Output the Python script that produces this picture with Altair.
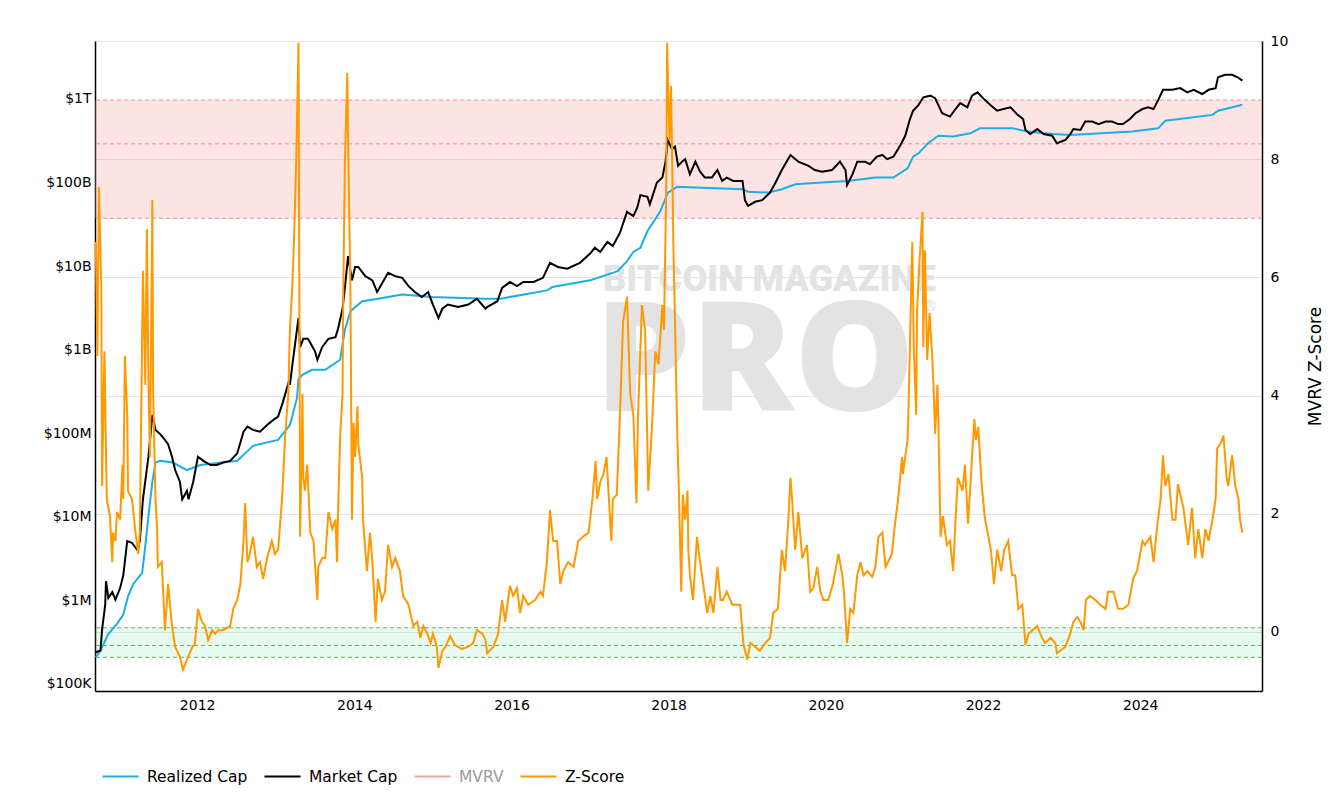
import altair as alt
import pandas as pd

# ---------------- data ----------------
series_names = ["Realized Cap", "Market Cap", "MVRV", "Z-Score"]
series_colors = ["#1aafe6", "#000000", "#f5a3a3", "#ff9900"]

# Realized cap: decimal year and log10(USD)
rc_year = [2010.71, 2010.77, 2010.87, 2010.98, 2011.06, 2011.12, 2011.19, 2011.30, 2011.34, 2011.38,
           2011.43, 2011.47, 2011.53, 2011.69, 2011.87, 2012.04, 2012.51, 2012.71, 2013.03, 2013.18,
           2013.21, 2013.27, 2013.29, 2013.34, 2013.46, 2013.63, 2013.82, 2013.88, 2013.95, 2014.10,
           2014.30, 2014.61, 2014.99, 2015.67, 2015.86, 2016.45, 2016.52, 2017.00, 2017.35, 2017.47,
           2017.55, 2017.64, 2017.73, 2017.89, 2017.99, 2018.11, 2018.34, 2018.94, 2019.01, 2019.27,
           2019.44, 2019.61, 2019.95, 2020.28, 2020.63, 2020.86, 2021.04, 2021.11, 2021.18, 2021.30,
           2021.43, 2021.62, 2021.84, 2021.96, 2022.38, 2022.56, 2022.89, 2023.11, 2023.90, 2024.23,
           2024.32, 2024.92, 2024.99, 2025.12, 2025.30]
rc_log = [5.32, 5.40, 5.60, 5.72, 5.83, 6.05, 6.20, 6.33, 6.65, 7.01,
          7.42, 7.65, 7.67, 7.65, 7.56, 7.62, 7.67, 7.85, 7.92, 8.10,
          8.20, 8.42, 8.65, 8.70, 8.76, 8.76, 8.88, 9.24, 9.46, 9.58,
          9.61, 9.66, 9.63, 9.61, 9.61, 9.71, 9.75, 9.83, 9.94, 10.06,
          10.17, 10.22, 10.42, 10.65, 10.88, 10.95, 10.94, 10.92, 10.89, 10.88,
          10.92, 10.98, 11.00, 11.02, 11.06, 11.06, 11.17, 11.31, 11.35, 11.47,
          11.56, 11.55, 11.59, 11.65, 11.65, 11.61, 11.58, 11.57, 11.61, 11.65,
          11.74, 11.81, 11.86, 11.89, 11.93]

# Market cap: decimal year and log10(USD)
mc_year = [2010.71, 2010.77, 2010.79, 2010.83, 2010.84, 2010.87, 2010.92, 2010.96, 2011.02, 2011.06,
           2011.11, 2011.17, 2011.24, 2011.27, 2011.31, 2011.38, 2011.43, 2011.47, 2011.53, 2011.59,
           2011.63, 2011.68, 2011.72, 2011.78, 2011.81, 2011.87, 2011.89, 2011.95, 2012.01, 2012.08,
           2012.17, 2012.25, 2012.33, 2012.42, 2012.51, 2012.59, 2012.64, 2012.71, 2012.80, 2012.89,
           2012.97, 2013.03, 2013.09, 2013.17, 2013.18, 2013.22, 2013.27, 2013.29, 2013.31, 2013.35,
           2013.41, 2013.50, 2013.53, 2013.59, 2013.67, 2013.76, 2013.79, 2013.85, 2013.88, 2013.92,
           2013.97, 2014.01, 2014.05, 2014.14, 2014.23, 2014.29, 2014.35, 2014.43, 2014.52, 2014.61,
           2014.69, 2014.77, 2014.86, 2014.94, 2015.00, 2015.07, 2015.12, 2015.19, 2015.32, 2015.45,
           2015.56, 2015.67, 2015.69, 2015.82, 2015.88, 2015.98, 2016.07, 2016.15, 2016.28, 2016.40,
           2016.49, 2016.59, 2016.71, 2016.87, 2017.00, 2017.06, 2017.13, 2017.22, 2017.29, 2017.38,
           2017.47, 2017.55, 2017.60, 2017.64, 2017.73, 2017.76, 2017.85, 2017.92, 2017.96, 2017.99,
           2018.04, 2018.08, 2018.12, 2018.17, 2018.21, 2018.27, 2018.34, 2018.40, 2018.46, 2018.55,
           2018.62, 2018.68, 2018.74, 2018.82, 2018.94, 2018.97, 2019.01, 2019.10, 2019.19, 2019.29,
           2019.36, 2019.44, 2019.55, 2019.65, 2019.78, 2019.86, 2019.95, 2020.08, 2020.18, 2020.25,
           2020.27, 2020.34, 2020.40, 2020.50, 2020.56, 2020.65, 2020.72, 2020.78, 2020.86, 2020.95,
           2021.01, 2021.07, 2021.11, 2021.18, 2021.24, 2021.33, 2021.39, 2021.48, 2021.58, 2021.65,
           2021.71, 2021.80, 2021.86, 2021.93, 2022.00, 2022.09, 2022.18, 2022.26, 2022.35, 2022.44,
           2022.51, 2022.54, 2022.60, 2022.69, 2022.77, 2022.88, 2022.94, 2023.05, 2023.11, 2023.15,
           2023.24, 2023.30, 2023.39, 2023.47, 2023.56, 2023.64, 2023.72, 2023.78, 2023.87, 2023.94,
           2024.03, 2024.10, 2024.17, 2024.23, 2024.29, 2024.41, 2024.51, 2024.60, 2024.68, 2024.79,
           2024.87, 2024.96, 2024.99, 2025.08, 2025.17, 2025.24, 2025.30]
mc_log = [5.38, 5.40, 5.65, 5.95, 6.23, 6.03, 6.10, 6.01, 6.15, 6.30,
          6.71, 6.69, 6.60, 6.71, 7.21, 7.72, 8.22, 8.04, 7.99, 7.92,
          7.87, 7.72, 7.56, 7.42, 7.21, 7.31, 7.21, 7.42, 7.72, 7.67,
          7.62, 7.62, 7.65, 7.67, 7.76, 8.02, 8.08, 8.04, 8.02, 8.10,
          8.16, 8.20, 8.37, 8.63, 8.58, 8.88, 9.24, 9.38, 9.03, 9.13,
          9.13, 8.98, 8.88, 9.03, 9.13, 9.15, 9.24, 9.49, 9.74, 10.12,
          9.83, 9.99, 9.99, 9.88, 9.83, 9.69, 9.79, 9.92, 9.88, 9.86,
          9.76, 9.69, 9.63, 9.69, 9.54, 9.38, 9.49, 9.54, 9.51, 9.54,
          9.61, 9.49, 9.51, 9.58, 9.74, 9.81, 9.76, 9.81, 9.81, 9.86,
          10.04, 9.99, 9.97, 10.04, 10.15, 10.22, 10.17, 10.29, 10.24, 10.40,
          10.65, 10.60, 10.70, 10.85, 10.83, 10.74, 11.00, 11.06, 11.25, 11.51,
          11.40, 11.43, 11.20, 11.25, 11.28, 11.10, 11.25, 11.13, 11.06, 11.06,
          11.15, 11.02, 11.06, 11.02, 11.02, 10.79, 10.72, 10.77, 10.79, 10.88,
          11.00, 11.15, 11.33, 11.25, 11.20, 11.15, 11.13, 11.15, 11.25, 11.15,
          10.97, 11.10, 11.25, 11.25, 11.22, 11.31, 11.33, 11.28, 11.31, 11.45,
          11.56, 11.76, 11.86, 11.93, 12.02, 12.04, 12.01, 11.83, 11.79, 11.88,
          11.95, 11.90, 12.04, 12.08, 12.01, 11.93, 11.86, 11.88, 11.90, 11.81,
          11.76, 11.63, 11.58, 11.64, 11.58, 11.56, 11.47, 11.51, 11.58, 11.64,
          11.63, 11.73, 11.73, 11.70, 11.73, 11.73, 11.70, 11.70, 11.76, 11.83,
          11.88, 11.90, 11.88, 11.99, 12.11, 12.11, 12.13, 12.08, 12.11, 12.06,
          12.11, 12.13, 12.26, 12.29, 12.29, 12.26, 12.22]

# MVRV Z-Score: decimal year and value
z_year = [2010.71, 2010.73, 2010.75, 2010.78, 2010.79, 2010.82, 2010.84, 2010.85, 2010.89, 2010.92,
          2010.93, 2010.96, 2010.98, 2011.02, 2011.05, 2011.06, 2011.08, 2011.11, 2011.12, 2011.17,
          2011.21, 2011.25, 2011.27, 2011.31, 2011.34, 2011.36, 2011.38, 2011.40, 2011.43, 2011.44,
          2011.47, 2011.49, 2011.50, 2011.55, 2011.59, 2011.63, 2011.68, 2011.72, 2011.78, 2011.82,
          2011.87, 2011.94, 2011.97, 2012.01, 2012.06, 2012.10, 2012.14, 2012.19, 2012.23, 2012.27,
          2012.33, 2012.42, 2012.46, 2012.51, 2012.55, 2012.59, 2012.61, 2012.64, 2012.67, 2012.71,
          2012.76, 2012.80, 2012.84, 2012.89, 2012.95, 2012.99, 2013.03, 2013.08, 2013.12, 2013.16,
          2013.18, 2013.21, 2013.23, 2013.26, 2013.29, 2013.30, 2013.31, 2013.34, 2013.35, 2013.37,
          2013.40, 2013.41, 2013.44, 2013.48, 2013.53, 2013.54, 2013.59, 2013.63, 2013.67, 2013.72,
          2013.76, 2013.78, 2013.79, 2013.82, 2013.85, 2013.86, 2013.88, 2013.91, 2013.92, 2013.95,
          2013.97, 2013.99, 2014.01, 2014.04, 2014.05, 2014.10, 2014.11, 2014.16, 2014.20, 2014.23,
          2014.27, 2014.30, 2014.35, 2014.39, 2014.43, 2014.48, 2014.52, 2014.58, 2014.62, 2014.69,
          2014.75, 2014.80, 2014.84, 2014.88, 2014.93, 2014.97, 2015.00, 2015.05, 2015.07, 2015.12,
          2015.16, 2015.22, 2015.28, 2015.37, 2015.45, 2015.51, 2015.56, 2015.63, 2015.67, 2015.69,
          2015.77, 2015.83, 2015.88, 2015.92, 2015.98, 2016.02, 2016.07, 2016.11, 2016.15, 2016.21,
          2016.30, 2016.37, 2016.40, 2016.45, 2016.49, 2016.53, 2016.58, 2016.62, 2016.66, 2016.72,
          2016.79, 2016.85, 2016.91, 2016.98, 2017.03, 2017.07, 2017.09, 2017.13, 2017.17, 2017.21,
          2017.23, 2017.27, 2017.29, 2017.34, 2017.38, 2017.42, 2017.47, 2017.51, 2017.55, 2017.59,
          2017.61, 2017.66, 2017.70, 2017.74, 2017.79, 2017.83, 2017.87, 2017.92, 2017.94, 2017.97,
          2017.98, 2018.01, 2018.03, 2018.06, 2018.08, 2018.11, 2018.13, 2018.16, 2018.18, 2018.21,
          2018.24, 2018.25, 2018.27, 2018.31, 2018.36, 2018.40, 2018.44, 2018.49, 2018.53, 2018.57,
          2018.62, 2018.66, 2018.69, 2018.74, 2018.81, 2018.87, 2018.91, 2018.95, 2019.00, 2019.04,
          2019.10, 2019.16, 2019.23, 2019.29, 2019.33, 2019.39, 2019.44, 2019.48, 2019.52, 2019.55,
          2019.57, 2019.61, 2019.65, 2019.70, 2019.76, 2019.80, 2019.84, 2019.89, 2019.93, 2019.97,
          2020.03, 2020.09, 2020.16, 2020.21, 2020.23, 2020.27, 2020.31, 2020.35, 2020.40, 2020.44,
          2020.48, 2020.53, 2020.59, 2020.63, 2020.67, 2020.72, 2020.76, 2020.79, 2020.84, 2020.88,
          2020.92, 2020.97, 2020.98, 2021.04, 2021.05, 2021.10, 2021.12, 2021.15, 2021.16, 2021.19,
          2021.23, 2021.24, 2021.26, 2021.29, 2021.32, 2021.35, 2021.37, 2021.39, 2021.42, 2021.43,
          2021.46, 2021.49, 2021.54, 2021.58, 2021.62, 2021.65, 2021.68, 2021.74, 2021.77, 2021.81,
          2021.86, 2021.89, 2021.91, 2021.94, 2021.98, 2022.02, 2022.05, 2022.10, 2022.14, 2022.18,
          2022.23, 2022.27, 2022.32, 2022.37, 2022.41, 2022.45, 2022.50, 2022.54, 2022.58, 2022.63,
          2022.69, 2022.75, 2022.79, 2022.86, 2022.92, 2022.94, 2023.01, 2023.05, 2023.11, 2023.15,
          2023.20, 2023.24, 2023.28, 2023.31, 2023.36, 2023.43, 2023.49, 2023.56, 2023.59, 2023.66,
          2023.72, 2023.78, 2023.85, 2023.91, 2023.96, 2024.03, 2024.06, 2024.13, 2024.17, 2024.22,
          2024.26, 2024.29, 2024.32, 2024.36, 2024.41, 2024.45, 2024.48, 2024.55, 2024.61, 2024.66,
          2024.70, 2024.74, 2024.79, 2024.83, 2024.87, 2024.92, 2024.96, 2024.98, 2025.02, 2025.06,
          2025.10, 2025.12, 2025.17, 2025.21, 2025.25, 2025.27, 2025.30]
z_score = [6.60, 4.67, 7.53, 5.82, 2.47, 4.75, 3.03, 2.25, 1.96, 1.18,
           1.68, 1.54, 2.03, 1.90, 2.83, 2.25, 4.67, 3.67, 2.39, 2.25,
           1.74, 1.32, 1.68, 6.11, 4.18, 6.82, 4.25, 2.96, 7.31, 4.03,
           2.25, 1.74, 1.10, 1.18, 0.03, 0.81, 0.10, -0.25, -0.42, -0.64,
           -0.47, -0.25, -0.22, 0.39, 0.17, 0.10, -0.14, 0.03, -0.03, 0.03,
           0.03, 0.10, 0.39, 0.54, 0.81, 1.54, 2.18, 1.18, 1.32, 1.61,
           1.10, 1.18, 0.90, 1.25, 1.54, 1.32, 1.39, 2.25, 3.32, 4.03,
           5.11, 5.82, 6.53, 7.95, 9.97, 5.82, 1.61, 4.03, 2.61, 2.39,
           2.83, 2.54, 1.68, 1.54, 0.54, 1.10, 1.25, 1.25, 2.03, 1.74,
           1.90, 1.18, 1.90, 3.32, 4.03, 5.82, 7.95, 9.46, 8.32, 5.82,
           1.90, 3.54, 2.96, 3.82, 3.18, 2.61, 1.90, 1.03, 1.68, 1.18,
           0.17, 0.90, 0.54, 0.68, 1.47, 1.10, 1.25, 1.03, 0.61, 0.46,
           0.10, 0.17, -0.10, 0.10, -0.03, -0.19, -0.03, -0.25, -0.61, -0.32,
           -0.25, -0.07, -0.22, -0.29, -0.25, -0.19, 0.03, -0.03, -0.14, -0.36,
           -0.25, -0.03, 0.54, 0.17, 0.78, 0.61, 0.74, 0.32, 0.61, 0.46,
           0.54, 0.68, 0.61, 1.18, 2.06, 1.54, 1.54, 0.81, 1.03, 1.18,
           1.10, 1.54, 1.61, 1.68, 2.25, 2.89, 2.25, 2.54, 2.67, 2.96,
           2.47, 1.54, 2.25, 2.32, 3.67, 5.25, 5.67, 4.03, 3.67, 2.18,
           3.67, 5.53, 5.11, 2.39, 3.54, 4.75, 4.53, 5.53, 5.11, 7.60,
           9.97, 8.32, 9.24, 6.53, 5.25, 3.32, 2.39, 0.68, 2.32, 1.90,
           2.39, 1.39, 0.96, 0.54, 1.61, 1.18, 0.81, 0.32, 0.61, 0.32,
           1.10, 0.54, 0.54, 0.68, 0.46, 0.46, 0.46, -0.19, -0.47, -0.19,
           -0.25, -0.32, -0.19, -0.10, 0.32, 0.39, 1.39, 1.03, 1.83, 2.61,
           2.25, 1.39, 2.03, 1.25, 1.47, 0.68, 0.74, 1.10, 0.68, 0.54,
           0.54, 0.81, 1.32, 0.96, 0.68, -0.19, 0.39, 0.32, 0.96, 1.18,
           0.96, 1.03, 0.93, 1.10, 1.61, 1.68, 1.10, 1.18, 1.32, 1.83,
           2.25, 2.96, 2.67, 3.25, 3.67, 6.60, 4.75, 3.67, 5.40, 6.24,
           7.11, 4.82, 6.46, 4.60, 5.40, 4.75, 4.18, 3.35, 4.18, 3.67,
           1.61, 1.96, 1.47, 1.54, 1.03, 1.90, 2.61, 2.39, 2.83, 1.83,
           2.96, 3.60, 3.25, 3.47, 2.54, 1.96, 1.74, 1.39, 0.81, 1.39,
           1.03, 1.39, 1.54, 0.96, 0.96, 0.39, 0.46, -0.22, -0.03, 0.03,
           0.10, -0.10, -0.19, -0.10, -0.19, -0.36, -0.29, -0.25, -0.03, 0.17,
           0.25, 0.17, 0.03, 0.54, 0.61, 0.54, 0.46, 0.39, 0.68, 0.68,
           0.39, 0.39, 0.46, 0.90, 1.03, 1.54, 1.47, 1.61, 1.18, 1.83,
           2.25, 2.99, 2.47, 2.67, 1.90, 1.90, 2.50, 2.10, 1.47, 2.10,
           1.25, 1.74, 1.25, 1.74, 1.54, 1.90, 2.25, 3.11, 3.18, 3.32,
           2.61, 2.47, 2.99, 2.47, 2.25, 1.90, 1.68]

# Zones on the Z-Score axis
red_zone = [7.0, 9.0]
red_dash_levels = [9.0, 8.26, 7.0]
green_zone = [-0.43, 0.07]
green_dash_levels = [0.07, -0.23, -0.43]

# Axis ticks
x_ticks = [2012, 2014, 2016, 2018, 2020, 2022, 2024]
x_domain = [2010.70, 2025.55]
cap_ticks = [1e5, 1e6, 1e7, 1e8, 1e9, 1e10, 1e11, 1e12]
cap_labels = ["$100K", "$1M", "$10M", "$100M", "$1B", "$10B", "$100B", "$1T"]
cap_domain_log = [4.916, 12.694]
z_ticks = [0, 2, 4, 6, 8, 10]
z_domain = [-1, 10]

# ---------------- tables ----------------
caps_df = pd.concat([
    pd.DataFrame({"year": rc_year[:len(rc_log)], "cap": [10 ** v for v in rc_log[:len(rc_year)]],
                  "series": "Realized Cap"}),
    pd.DataFrame({"year": mc_year[:len(mc_log)], "cap": [10 ** v for v in mc_log[:len(mc_year)]],
                  "series": "Market Cap"}),
], ignore_index=True)
n = min(len(z_year), len(z_score))
z_df = pd.DataFrame({"year": z_year[:n], "z": z_score[:n], "series": "Z-Score"})
zones_df = pd.DataFrame({"lo": [red_zone[0], green_zone[0]], "hi": [red_zone[1], green_zone[1]],
                         "zone": ["red", "green"]})
red_rules_df = pd.DataFrame({"level": red_dash_levels})
green_rules_df = pd.DataFrame({"level": green_dash_levels})

W, H = 1167, 650
FONT = "DejaVu Sans"

x_enc = alt.X("year:Q",
              scale=alt.Scale(domain=x_domain, nice=False, zero=False),
              axis=alt.Axis(values=x_ticks, format="d", title=None, grid=False, ticks=False,
                            domainColor="#000000", domainWidth=1.5, labelPadding=7,
                            labelFontSize=14, labelColor="#000000", labelFont=FONT))

legend = alt.Legend(orient="none", legendX=6, legendY=716, direction="horizontal", title=None,
                    symbolType="stroke", symbolSize=1300, symbolStrokeWidth=2,
                    labelFontSize=15.5, labelFont=FONT, labelOffset=7, columnPadding=12,
                    labelColor=alt.ExprRef("datum.label == 'MVRV' ? '#9a9a9a' : '#000000'"))
color_enc = alt.Color("series:N", scale=alt.Scale(domain=series_names, range=series_colors),
                      legend=legend)

zscale = alt.Scale(domain=z_domain, nice=False, zero=False)

# zones (behind everything)
zone_rect = alt.Chart(zones_df).mark_rect().encode(
    y=alt.Y("lo:Q", scale=zscale, axis=None),
    y2="hi:Q",
    fill=alt.Fill("zone:N", scale=alt.Scale(domain=["red", "green"], range=["#ff9f9f", "#4fd08a"]),
                  legend=None),
    opacity=alt.Opacity("zone:N", scale=alt.Scale(domain=["red", "green"], range=[0.28, 0.13]),
                        legend=None),
)
red_rules = alt.Chart(red_rules_df).mark_rule(color="#f28b8b", strokeDash=[4, 3], strokeWidth=1).encode(
    y=alt.Y("level:Q", scale=zscale, axis=None))
green_rules = alt.Chart(green_rules_df).mark_rule(color="#5cb85c", strokeDash=[4, 3], strokeWidth=1).encode(
    y=alt.Y("level:Q", scale=zscale, axis=None))
zones = alt.layer(zone_rect, red_rules, green_rules)

# watermark
wm_df = pd.DataFrame({"t": ["BITCOIN MAGAZINE"]})
wm1 = alt.Chart(wm_df).mark_text(align="left", baseline="alphabetic", font="Roboto", fontWeight=900,
                                 fontSize=36, color="#e3e3e3").encode(
    x=alt.value(508), y=alt.value(250), text="t:N")
wm2_df = pd.DataFrame({"t": ["PRO"]})
wm2 = alt.Chart(wm2_df).mark_text(align="left", baseline="alphabetic", font="Open Sans", fontWeight=800,
                                  fontSize=152, color="#e3e3e3").encode(
    x=alt.value(500), y=alt.value(370), text="t:N")
wm3_df = pd.DataFrame({"t": ["®"]})
wm3 = alt.Chart(wm3_df).mark_text(align="left", baseline="alphabetic", font="Roboto",
                                  fontSize=14, color="#e3e3e3").encode(
    x=alt.value(830), y=alt.value(270), text="t:N")

caps = alt.Chart(caps_df).mark_line(strokeWidth=2).encode(
    x=x_enc,
    y=alt.Y("cap:Q",
            scale=alt.Scale(type="log", domain=[10 ** cap_domain_log[0], 10 ** cap_domain_log[1]], nice=False),
            axis=alt.Axis(orient="left", values=cap_ticks, title=None, grid=False, ticks=False,
                          labelExpr="%s[round(log(datum.value)/LN10) - 5]" % str(cap_labels),
                          domainColor="#000000", domainWidth=1.5, labelPadding=4,
                          labelFontSize=14, labelColor="#000000", labelFont=FONT)),
    color=color_enc,
    detail="series:N",
)

zline = alt.Chart(z_df).mark_line(strokeWidth=2).encode(
    x=x_enc,
    y=alt.Y("z:Q", scale=zscale,
            axis=alt.Axis(orient="right", values=z_ticks, title="MVRV Z-Score", grid=True,
                          gridColor="#e4e4e4", gridWidth=1, ticks=False,
                          domainColor="#000000", domainWidth=1.5, labelPadding=8,
                          labelFontSize=14, labelColor="#000000", labelFont=FONT,
                          titleFont=FONT, titleFontSize=17, titleFontWeight="normal",
                          titleColor="#000000", titleAngle=270, titlePadding=37)),
    color=color_enc,
)

chart = alt.layer(zones, wm1, wm2, wm3, caps, zline).resolve_scale(
    y="independent"
).properties(
    width=W, height=H,
    autosize=alt.AutoSizeParams(type="none"),
    padding={"left": 87, "top": 33, "right": 62, "bottom": 100},
).configure_view(stroke=None).configure(font=FONT)

chart.save("out.html", embed_options={"renderer": "svg", "actions": False})
